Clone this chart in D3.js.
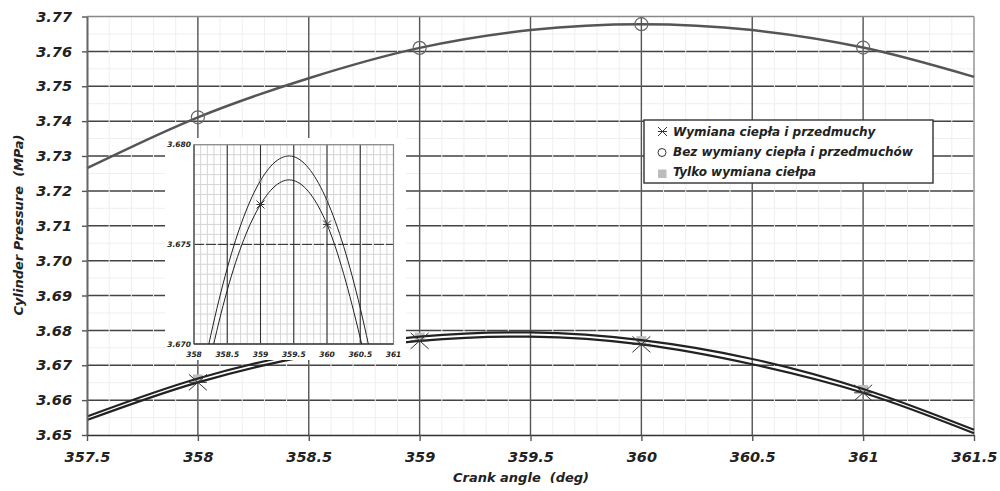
<html>
<script src='https://d3js.org/d3.v7.min.js'></script>
<style>
 body {margin:0; background:#fff;}
 text {font-family: 'DejaVu Sans', Verdana, sans-serif; font-weight: bold; font-style: italic; fill:#222;}
</style>
<body onload='init()'>
<svg width=1000 height=491></svg>
<script>
// crank angle samples (deg)
const angles = [357.5, 358, 358.5, 359, 359.5, 360, 360.5, 361, 361.5];
// cylinder pressure (MPa)
const bezWymiany   = [3.7265, 3.7411, 3.7523, 3.7610, 3.7661, 3.7678, 3.7661, 3.7611, 3.7527];
const tylkoCiepla  = [3.6553, 3.6662, 3.6738, 3.6782, 3.6794, 3.6772, 3.6718, 3.6632, 3.6515];
const wymianaPrzed = [3.6543, 3.6651, 3.6727, 3.6770, 3.6782, 3.6760, 3.6703, 3.6621, 3.6505];
// angles that carry a marker
const markerAngles = [358, 359, 360, 361];

const xTicks = [357.5, 358, 358.5, 359, 359.5, 360, 360.5, 361, 361.5];
const yTicks = [3.65, 3.66, 3.67, 3.68, 3.69, 3.70, 3.71, 3.72, 3.73, 3.74, 3.75, 3.76, 3.77];
const insetXTicks = [358, 358.5, 359, 359.5, 360, 360.5, 361];
const insetYTicks = [3.670, 3.675, 3.680];

const legendNames = ["Wymiana ciepła i przedmuchy", "Bez wymiany ciepła i przedmuchów", "Tylko wymiana ciełpa"];

function init() {

var svg = d3.select('svg');

var left = 87, right = 974, top = 16.5, bottom = 435;

var x = d3.scaleLinear().domain([357.5, 361.5]).range([left, right]);
var y = d3.scaleLinear().domain([3.65, 3.77]).range([bottom, top]);

var xMinor = d3.range(3575, 3616, 1).map(d => d / 10);
var yMinor = d3.range(730, 755, 1).map(d => d / 200);

// minor horizontal grid
svg.append('g').selectAll('line').data(yMinor).enter().append('line')
   .attr('x1', left).attr('x2', right)
   .attr('y1', d => y(d)).attr('y2', d => y(d))
   .attr('stroke', '#efefef').attr('stroke-width', 1);

// major horizontal grid
svg.append('g').selectAll('line').data(yTicks.slice(1, -1)).enter().append('line')
   .attr('x1', left).attr('x2', right)
   .attr('y1', d => y(d)).attr('y2', d => y(d))
   .attr('stroke', '#444').attr('stroke-width', 1.5);

// minor vertical grid (drawn over the major horizontals)
svg.append('g').selectAll('line').data(xMinor).enter().append('line')
   .attr('x1', d => x(d)).attr('x2', d => x(d))
   .attr('y1', top).attr('y2', bottom)
   .attr('stroke', '#efefef').attr('stroke-width', 1);

// major vertical grid
svg.append('g').selectAll('line').data(xTicks.slice(1, -1)).enter().append('line')
   .attr('x1', d => x(d)).attr('x2', d => x(d))
   .attr('y1', top).attr('y2', bottom)
   .attr('stroke', '#555').attr('stroke-width', 1.4);

// frame top / right
svg.append('line').attr('x1', left).attr('x2', right).attr('y1', top).attr('y2', top)
   .attr('stroke', '#888').attr('stroke-width', 1.5);
svg.append('line').attr('x1', right).attr('x2', right).attr('y1', top).attr('y2', bottom)
   .attr('stroke', '#999').attr('stroke-width', 1.5);

var line = d3.line().curve(d3.curveCardinal.tension(0));

// upper curve
svg.append('path')
   .attr('d', line(angles.map((a, i) => [x(a), y(bezWymiany[i])])))
   .attr('fill', 'none').attr('stroke', '#555').attr('stroke-width', 2.5);

// gray squares under the lines
svg.append('g').selectAll('rect').data(markerAngles).enter().append('rect')
   .attr('x', d => x(d) - 5).attr('y', d => y(tylkoCiepla[angles.indexOf(d)]) - 4)
   .attr('width', 10).attr('height', 8).attr('fill', '#bdbdbd');

// lower double lines
[tylkoCiepla, wymianaPrzed].forEach(function(s) {
  svg.append('path')
     .attr('d', line(angles.map((a, i) => [x(a), y(s[i])])))
     .attr('fill', 'none').attr('stroke', '#222').attr('stroke-width', 2.2);
});

// circles
svg.append('g').selectAll('circle').data(markerAngles).enter().append('circle')
   .attr('cx', d => x(d)).attr('cy', d => y(bezWymiany[angles.indexOf(d)]))
   .attr('r', 6.5).attr('fill', 'none').attr('stroke', '#666').attr('stroke-width', 1.2);

// star markers
function star(g, cx, cy, w, h) {
  g.append('path')
   .attr('d', 'M' + (cx - w) + ',' + (cy - h) + 'L' + (cx + w) + ',' + (cy + h) +
              'M' + (cx - w) + ',' + (cy + h) + 'L' + (cx + w) + ',' + (cy - h) +
              'M' + (cx - w) + ',' + cy + 'L' + (cx + w) + ',' + cy)
   .attr('stroke', '#333').attr('stroke-width', 1).attr('fill', 'none');
}
var stars = svg.append('g');
markerAngles.forEach(d => star(stars, x(d), y(wymianaPrzed[angles.indexOf(d)]), 9, 8));

// y axis
var yAxis = svg.append('g')
  .attr('transform', 'translate(' + left + ',0)')
  .call(d3.axisLeft(y).tickValues(yTicks).tickFormat(d3.format('.2f')).tickSize(5).tickSizeOuter(0).tickPadding(10));
yAxis.select('.domain').attr('stroke', '#666').attr('stroke-width', 2);
yAxis.selectAll('.tick line').attr('stroke', '#555').attr('stroke-width', 1.4);
yAxis.selectAll('text').style('font-size', '14.5px').attr('fill', '#222')
     .style('font-family', "'DejaVu Sans'").style('font-weight', 'bold').style('font-style', 'italic');

// x axis
var xAxis = svg.append('g')
  .attr('transform', 'translate(0,' + bottom + ')')
  .call(d3.axisBottom(x).tickValues(xTicks).tickFormat(d => String(d)).tickSize(6).tickSizeOuter(0).tickPadding(11));
xAxis.select('.domain').attr('stroke', '#333').attr('stroke-width', 1.5);
xAxis.selectAll('.tick line').attr('stroke', '#555').attr('stroke-width', 1.4);
xAxis.selectAll('text').style('font-size', '14.5px').attr('fill', '#222')
     .style('font-family', "'DejaVu Sans'").style('font-weight', 'bold').style('font-style', 'italic');

// axis titles
svg.append('text').text('Crank angle  (deg)')
   .attr('x', 521).attr('y', 482).attr('text-anchor', 'middle')
   .style('font-size', '13px').style('white-space', 'pre');
svg.append('text').text('Cylinder Pressure  (MPa)')
   .attr('text-anchor', 'middle').style('white-space', 'pre')
   .attr('transform', 'translate(23,225) rotate(-90)')
   .style('font-size', '13px');

// ---------- inset ----------
svg.append('rect').attr('x', 165).attr('y', 138).attr('width', 241).attr('height', 222).attr('fill', '#fff');

var il = 194, ir = 393.5, it = 144.7, ib = 344;
var xi = d3.scaleLinear().domain([358, 361]).range([il, ir]);
var yi = d3.scaleLinear().domain([3.670, 3.680]).range([ib, it]);

var ixMinor = d3.range(3580, 3611, 1).map(d => d / 10);
var iyMinor = d3.range(0, 21, 1).map(d => 3.670 + d * 0.0005);

var inset = svg.append('g');

inset.append('g').selectAll('line').data(iyMinor).enter().append('line')
   .attr('x1', il).attr('x2', ir).attr('y1', d => yi(d)).attr('y2', d => yi(d))
   .attr('stroke', '#d4d4d4').attr('stroke-width', 1);
inset.append('g').selectAll('line').data(ixMinor).enter().append('line')
   .attr('x1', d => xi(d)).attr('x2', d => xi(d)).attr('y1', it).attr('y2', ib)
   .attr('stroke', '#d4d4d4').attr('stroke-width', 1);
inset.append('line').attr('x1', il).attr('x2', ir).attr('y1', yi(3.675)).attr('y2', yi(3.675))
   .attr('stroke', '#222').attr('stroke-width', 1).attr('stroke-dasharray', '10,2');
inset.append('g').selectAll('line').data(insetXTicks.slice(1, -1)).enter().append('line')
   .attr('x1', d => xi(d)).attr('x2', d => xi(d)).attr('y1', it).attr('y2', ib)
   .attr('stroke', '#333').attr('stroke-width', 1.1);

// inset frame
inset.append('rect').attr('x', il).attr('y', it).attr('width', ir - il).attr('height', ib - it)
   .attr('fill', 'none').attr('stroke', '#888').attr('stroke-width', 1.2);
inset.append('line').attr('x1', il).attr('x2', il).attr('y1', it).attr('y2', ib)
   .attr('stroke', '#666').attr('stroke-width', 1.6);
inset.append('line').attr('x1', il).attr('x2', ir).attr('y1', ib).attr('y2', ib)
   .attr('stroke', '#444').attr('stroke-width', 1.4);

svg.append('clipPath').attr('id', 'insetClip').append('rect')
   .attr('x', il).attr('y', it).attr('width', ir - il).attr('height', ib - it);

var ic = inset.append('g').attr('clip-path', 'url(#insetClip)');
var iline = d3.line().curve(d3.curveCardinal.tension(0));

ic.selectAll('rect').data(markerAngles).enter().append('rect')
   .attr('x', d => xi(d) - 2).attr('y', d => yi(tylkoCiepla[angles.indexOf(d)]) - 2)
   .attr('width', 4).attr('height', 4).attr('fill', '#c8c8c8');

[tylkoCiepla, wymianaPrzed].forEach(function(s) {
  ic.append('path')
    .attr('d', iline(angles.map((a, i) => [xi(a), yi(s[i])])))
    .attr('fill', 'none').attr('stroke', '#222').attr('stroke-width', 1);
});
markerAngles.forEach(d => star(ic, xi(d), yi(wymianaPrzed[angles.indexOf(d)]), 4, 4));

// inset tick labels
inset.append('g').selectAll('text').data(insetYTicks).enter().append('text')
   .text(d => d3.format('.3f')(d))
   .attr('x', il - 3).attr('y', d => yi(d) + 2.5).attr('text-anchor', 'end')
   .style('font-size', '7.5px');
inset.append('g').selectAll('text').data(insetXTicks).enter().append('text')
   .text(d => String(d))
   .attr('x', d => xi(d)).attr('y', 356.5).attr('text-anchor', 'middle')
   .style('font-size', '7.5px');

// ---------- legend ----------
var leg = svg.append('g');
leg.append('rect').attr('x', 644).attr('y', 120).attr('width', 289).attr('height', 63)
   .attr('fill', '#fff').attr('stroke', '#333').attr('stroke-width', 1.4);
star(leg, 662.5, 131.5, 4.5, 4.5);
leg.append('circle').attr('cx', 662).attr('cy', 152.5).attr('r', 4)
   .attr('fill', 'none').attr('stroke', '#333').attr('stroke-width', 1);
leg.append('rect').attr('x', 658).attr('y', 169.5).attr('width', 8.5).attr('height', 8.5).attr('fill', '#bdbdbd');
leg.selectAll('text.lg').data(legendNames).enter().append('text')
   .text(d => d)
   .attr('x', 673).attr('y', (d, i) => 135.5 + i * 20.3)
   .style('font-size', '12px');

}
</script>
</body>
</html>
